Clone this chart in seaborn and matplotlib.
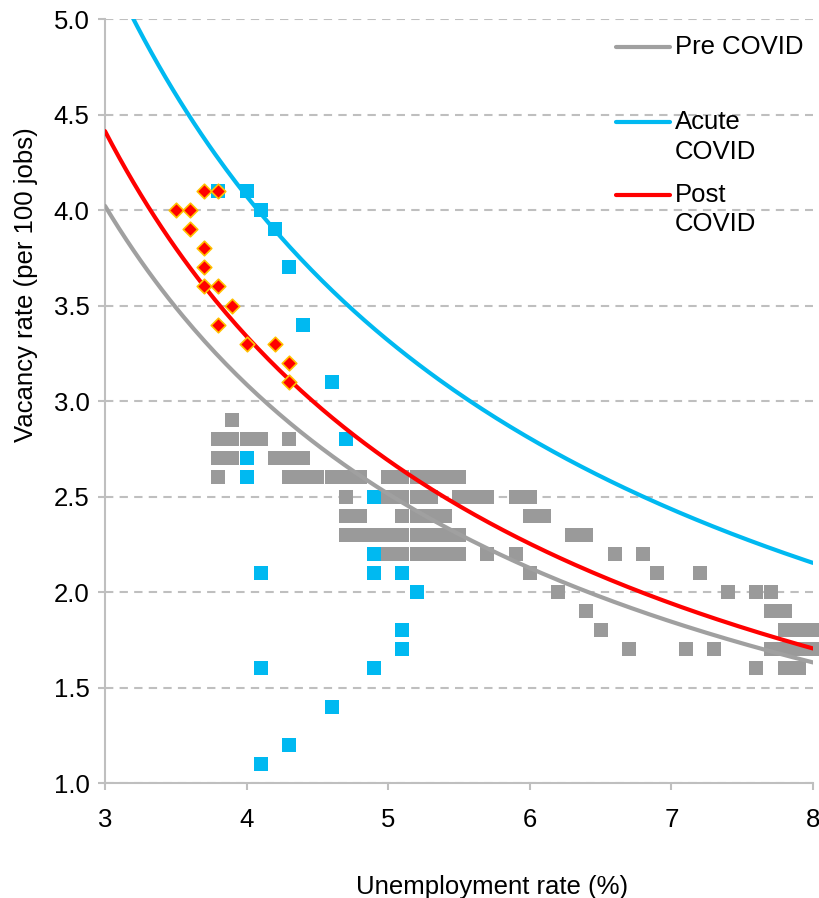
import numpy as np
import pandas as pd
import matplotlib
matplotlib.use("Agg")
import matplotlib.pyplot as plt
import seaborn as sns

# Pre COVID observations (unemployment %, vacancies per 100 jobs), read row by row
pre_u = [3.9,
         3.8, 3.9, 4.0, 4.1, 4.3,
         3.8, 3.9, 4.2, 4.3, 4.4,
         3.8, 4.3, 4.4, 4.5, 4.6, 4.7, 4.8, 5.0, 5.1, 5.2, 5.3, 5.4, 5.5,
         4.7, 5.0, 5.1, 5.2, 5.3, 5.5, 5.6, 5.7, 5.9, 6.0,
         4.7, 4.8, 5.1, 5.2, 5.3, 5.4, 6.0, 6.1,
         4.7, 4.8, 4.9, 5.0, 5.1, 5.2, 5.3, 5.4, 5.5, 6.3, 6.4,
         5.0, 5.1, 5.2, 5.3, 5.4, 5.5, 5.7, 5.9, 6.6, 6.8,
         6.0, 6.9, 7.2,
         6.2, 7.4, 7.6, 7.7,
         6.4, 7.7, 7.8,
         6.5, 7.8, 7.9, 8.0,
         6.7, 7.1, 7.3, 7.7, 7.8, 7.9, 8.0,
         7.6, 7.8, 7.9]
pre_v = ([2.9] + [2.8] * 5 + [2.7] * 5 + [2.6] * 13 + [2.5] * 10 + [2.4] * 8
         + [2.3] * 11 + [2.2] * 10 + [2.1] * 3 + [2.0] * 4 + [1.9] * 3
         + [1.8] * 4 + [1.7] * 7 + [1.6] * 3)

# Acute COVID observations
acute_u = [3.8, 4.0, 4.1, 4.2, 4.3, 4.4, 4.6, 4.7, 4.0, 4.0, 4.9, 4.9,
           4.1, 4.9, 5.1, 5.2, 5.1, 5.1, 4.1, 4.9, 4.6, 4.3, 4.1]
acute_v = [4.1, 4.1, 4.0, 3.9, 3.7, 3.4, 3.1, 2.8, 2.7, 2.6, 2.5, 2.2,
           2.1, 2.1, 2.1, 2.0, 1.8, 1.7, 1.6, 1.6, 1.4, 1.2, 1.1]

# Post COVID observations
post_u = [3.7, 3.8, 3.5, 3.6, 3.6, 3.7, 3.7, 3.7, 3.8, 3.9, 3.8, 4.0, 4.2, 4.3, 4.3]
post_v = [4.1, 4.1, 4.0, 4.0, 3.9, 3.8, 3.7, 3.6, 3.6, 3.5, 3.4, 3.3, 3.3, 3.2, 3.1]

# fitted power curves v = a * u**b
curve_names = ["Pre COVID", "Acute COVID", "Post COVID"]
curve_a = [11.05, 14.58, 12.81]
curve_b = [-0.92, -0.92, -0.97]
curve_colors = ["#A0A0A0", "#00B9F1", "#FF0000"]
legend_labels = ["Pre COVID", "Acute\nCOVID", "Post\nCOVID"]

sns.set_style("white")
plt.rcParams["font.family"] = ["Liberation Sans", "DejaVu Sans"]
plt.rcParams["text.color"] = "black"
plt.rcParams["axes.labelcolor"] = "black"
plt.rcParams["xtick.labelcolor"] = "black"
plt.rcParams["ytick.labelcolor"] = "black"
FS = 18.5

fig = plt.figure(figsize=(8.2, 8.98), dpi=100)
ax = fig.add_axes([0.12805, 0.12806, 0.86341, 0.85078])

sns.scatterplot(x=pre_u, y=pre_v, marker="s", s=102, color="#9A9A9A",
                linewidth=0, ax=ax, zorder=2, clip_on=False, legend=False)
sns.scatterplot(x=acute_u, y=acute_v, marker="s", s=102, color="#00B9F1",
                linewidth=0, ax=ax, zorder=3, clip_on=False, legend=False)

u_grid = np.linspace(3, 8, 200)
for name, a, b, col in zip(curve_names, curve_a, curve_b, curve_colors):
    df = pd.DataFrame({"u": u_grid, "v": a * u_grid ** b})
    sns.lineplot(data=df, x="u", y="v", color=col, linewidth=3,
                 estimator=None, sort=False, ax=ax, zorder=4, legend=False)

sns.scatterplot(x=post_u, y=post_v, marker="D", s=55, color="#FF0000",
                edgecolor="#FFC000", linewidth=1.2, ax=ax, zorder=5, legend=False)

ax.set_xlim(3, 8)
ax.set_ylim(1, 5)
ax.set_xticks(range(3, 9))
ax.set_yticks(np.arange(1.0, 5.01, 0.5))
ax.set_yticklabels([f"{t:.1f}" for t in np.arange(1.0, 5.01, 0.5)])

ax.yaxis.grid(True, color="#BFBFBF", linestyle=(0, (4, 3)), linewidth=1.5, zorder=0)
ax.xaxis.grid(False)
ax.set_axisbelow(True)
for side in ["top", "right"]:
    ax.spines[side].set_visible(False)
for side in ["left", "bottom"]:
    ax.spines[side].set_color("#BFBFBF")
    ax.spines[side].set_linewidth(1.5)
ax.tick_params(axis="x", which="major", length=5, width=1.5, color="#BFBFBF",
               labelsize=FS, pad=13, bottom=True)
ax.tick_params(axis="y", which="major", length=5, width=1.5, color="#BFBFBF",
               labelsize=FS, pad=6, left=True)

ax.set_xlabel("Unemployment rate (%)", fontsize=FS)
ax.set_ylabel("Vacancy rate (per 100 jobs)", fontsize=FS)
ax.xaxis.set_label_coords(0.547, -0.12)
ax.yaxis.set_label_coords(-0.095, 0.652)

# legend drawn by hand so the line sits at the first text line
legend_y = [0.963, 0.865, 0.770]
for lab, col, y in zip(legend_labels, curve_colors, legend_y):
    ax.plot([0.722, 0.798], [y, y], transform=ax.transAxes, color=col, lw=3,
            solid_capstyle="round", clip_on=False, zorder=6)
    ax.text(0.805, y + 0.0155, lab, transform=ax.transAxes, ha="left", va="top",
            fontsize=FS, linespacing=1.28, zorder=6)

fig.savefig("out.png", dpi=100)
